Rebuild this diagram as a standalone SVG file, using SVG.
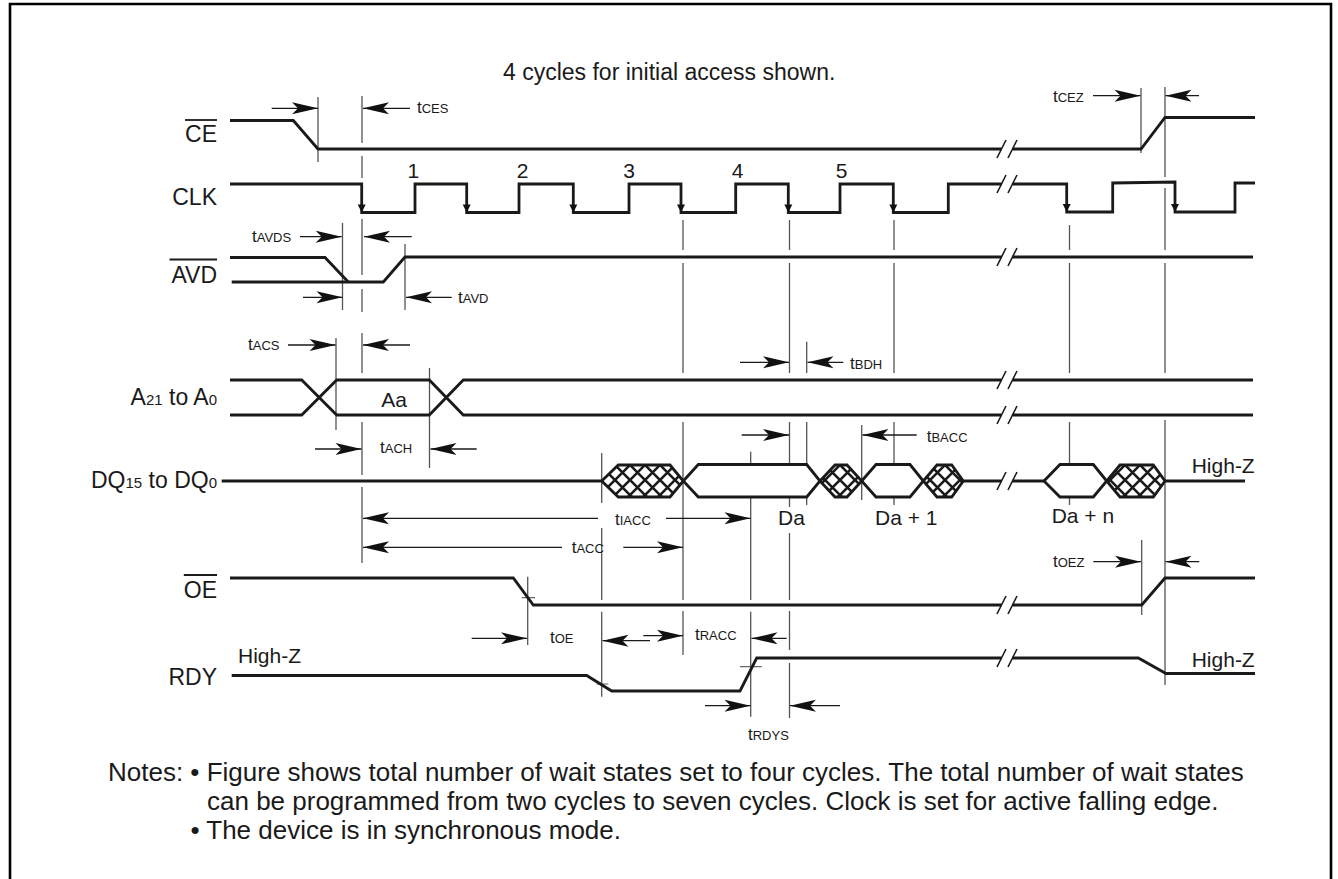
<svg xmlns="http://www.w3.org/2000/svg" width="1338" height="879" viewBox="0 0 1338 879">
<style>
.sig{fill:none;stroke:#1a1a1a;stroke-width:2.8;stroke-linejoin:miter}
.ref{fill:none;stroke:#555;stroke-width:1.3}
.arr{fill:none;stroke:#1a1a1a;stroke-width:1.3;marker-end:url(#ah)}
.brk{fill:none;stroke:#1a1a1a;stroke-width:1.6}
.tick{fill:none;stroke:#666;stroke-width:1.2}
text{font-family:"Liberation Sans",Arial,Helvetica,sans-serif;fill:#1a1a1a}
.lbl{font-size:23px;text-anchor:end}
.tl{font-size:17px}
.sub{font-size:13px}
.dl{font-size:21px}
.note{font-size:26px}
.ttl{font-size:23px}
</style>
<defs>
<marker id="ah" viewBox="-27 -7 28 14" refX="0" refY="0" markerWidth="28" markerHeight="14" markerUnits="userSpaceOnUse" orient="auto">
<path d="M0,0 L-26,-6 L-20,0 L-26,6 Z" fill="#111"/>
</marker>
<path id="ck" d="M-4,-8 L4,-8 L0,0 Z" fill="#111"/>
<pattern id="hatch" patternUnits="userSpaceOnUse" width="15" height="15">
<rect width="15" height="15" fill="#fff"/>
<path d="M0,0 L15,15 M15,0 L0,15" stroke="#1a1a1a" stroke-width="2.6"/>
</pattern>
</defs>
<rect width="1338" height="879" fill="#fff"/>
<path d="M10,879 V4 H1331 V879" fill="none" stroke="#000" stroke-width="2.6"/>

<text class="ttl" x="503" y="80">4 cycles for initial access shown.</text>

<g id="reference-lines">
<path class="ref" d="M318,97 V162"/>
<path class="ref" d="M362,96 V143 M362,156 V178 M362,219 V275 M362,289 V312 M362,333 V373 M362,422 V475 M362,487 V563"/>
<path class="ref" d="M342.5,223 V310"/>
<path class="ref" d="M405,244 V310"/>
<path class="ref" d="M336,338 V430"/>
<path class="ref" d="M429.5,368 V468"/>
<path class="ref" d="M683,220 V250 M683,263 V373 M683,422 V600 M683,611 V655"/>
<path class="ref" d="M789.5,220 V250 M789.5,263 V373 M789.5,422 V463 M789.5,498 V507 M789.5,533 V600 M789.5,611 V650 M789.5,663 V718"/>
<path class="ref" d="M894,220 V250 M894,263 V373 M894,422 V463 M894,498 V505"/>
<path class="ref" d="M806.7,341.7 V373 M806.7,422 V464 M806.7,497 V505"/>
<path class="ref" d="M750.7,451.7 V464 M750.7,497 V600 M750.7,611.7 V716.7"/>
<path class="ref" d="M601.7,453 V503 M601.7,528 V600 M601.7,611.7 V696.7"/>
<path class="ref" d="M861.7,425 V500"/>
<path class="ref" d="M1069.5,225 V250 M1069.5,263 V373 M1069.5,422 V463 M1069.5,498 V505"/>
<path class="ref" d="M1165,87 V177 M1165,188 V250 M1165,263 V373 M1165,420 V685"/>
<path class="ref" d="M1141,88 V153"/>
<path class="ref" d="M1141.7,540 V615"/>
<path class="ref" d="M527.7,576.7 V645"/>
<path class="tick" d="M521.7,597.7 H535 M596.7,684 H608.3 M740,666.7 H761.7"/>
</g>

<g id="sig-CE">
<text class="lbl" x="217" y="142">CE</text>
<path d="M185,120 H217" stroke="#1a1a1a" stroke-width="1.8"/>
<path class="sig" d="M230,120.5 H293.3 L318,149 H1001.5 M1012.5,149 H1141 L1165,117.5 H1255"/>
</g>

<g id="sig-CLK">
<text class="lbl" x="217" y="205">CLK</text>
<path class="sig" d="M230,184 H361.7 V212.5 H415 V184 H466.7 V212.5 H519 V184 H573.3 V212.5 H629 V184 H681 V212.5 H735.7 V184 H788.3 V212.5 H840 V184 H893.3 V212.5 H948.3 V184 H1001.5 M1012.5,184 H1066.7 V212 H1112.7 V183 L1175,182 V212 H1235 V183 H1255"/>
<use href="#ck" x="361.7" y="212.5"/>
<use href="#ck" x="466.7" y="212.5"/>
<use href="#ck" x="573.3" y="212.5"/>
<use href="#ck" x="681" y="212.5"/>
<use href="#ck" x="788.3" y="212.5"/>
<use href="#ck" x="893.3" y="212.5"/>
<use href="#ck" x="1066.7" y="212"/>
<use href="#ck" x="1175" y="212"/>
<text class="dl" x="413.3" y="177.5" text-anchor="middle">1</text>
<text class="dl" x="522.5" y="177.5" text-anchor="middle">2</text>
<text class="dl" x="629" y="177.5" text-anchor="middle">3</text>
<text class="dl" x="737.5" y="177.5" text-anchor="middle">4</text>
<text class="dl" x="841.5" y="177.5" text-anchor="middle">5</text>
</g>

<g id="sig-AVD">
<text class="lbl" x="217" y="283">AVD</text>
<path d="M169.5,259.5 H217" stroke="#1a1a1a" stroke-width="1.8"/>
<path class="sig" d="M230,257.5 H325 L348.3,282"/>
<path class="sig" d="M231.7,282 H383.3 L405,257 H1001.5 M1012.5,257 H1253"/>
</g>

<g id="sig-A">
<text class="lbl" x="217" y="405">A<tspan font-size="15">21</tspan> to A<tspan font-size="15">0</tspan></text>
<path class="sig" d="M230,380 H301.7 L336.7,415 H429.3 L463.3,380 H1001.5 M1012.5,380 H1253"/>
<path class="sig" d="M230,415 H301.7 L336.7,380 H429.3 L463.3,415 H1001.5 M1012.5,415 H1253"/>
<text class="dl" x="394" y="406.7" text-anchor="middle">Aa</text>
</g>

<g id="sig-DQ">
<text class="lbl" x="217" y="488">DQ<tspan font-size="15">15</tspan> to DQ<tspan font-size="15">0</tspan></text>
<path class="sig" d="M221.7,481 H601.7 M963.3,481 H1001.5 M1012.5,481 H1044 M1165,481 H1245"/>
<path class="sig" style="fill:url(#hatch)" d="M601.7,481 L618.3,465 H670 L683.3,481 L670,497 H618.3 Z"/>
<path class="sig" style="fill:#fff" d="M683.3,481 L698.3,464.5 H806.7 L820,481 L806.7,497 H698.3 Z"/>
<path class="sig" style="fill:url(#hatch)" d="M820,481 L835,465 H847 L861.7,481 L847,497 H835 Z"/>
<path class="sig" style="fill:#fff" d="M861.7,481 L876,464.5 H910 L923.3,481 L910,497 H876 Z"/>
<path class="sig" style="fill:url(#hatch)" d="M923.3,481 L937,465 H951.7 L963.3,481 L951.7,497 H937 Z"/>
<path class="sig" style="fill:#fff" d="M1044,481 L1060,464.5 H1093.3 L1106.7,481 L1093.3,497 H1060 Z"/>
<path class="sig" style="fill:url(#hatch)" d="M1106.7,481 L1120,465 H1153.3 L1165,481 L1153.3,497 H1120 Z"/>
<text class="dl" x="778" y="525">Da</text>
<text class="dl" x="875" y="525">Da + 1</text>
<text class="dl" x="1051.7" y="523.3">Da + n</text>
<text class="dl" x="1191.7" y="473.3">High-Z</text>
</g>

<g id="sig-OE">
<text class="lbl" x="217" y="598">OE</text>
<path d="M183.8,575 H217" stroke="#1a1a1a" stroke-width="1.8"/>
<path class="sig" d="M230,578 H513.3 L533.3,605 H1001.5 M1012.5,605 H1141.7 L1165,578 H1255"/>
</g>

<g id="sig-RDY">
<text class="lbl" x="217" y="685">RDY</text>
<path class="sig" d="M231.7,675.5 H586.7 L611.7,691 H740 L756.7,658 H1001.5 M1012.5,658 H1138.3 L1166,673.5 H1255"/>
<text class="dl" x="238" y="662.7">High-Z</text>
<text class="dl" x="1191.7" y="666.7">High-Z</text>
</g>

<g id="breaks">
<path class="brk" d="M997,158 L1006,140 M1008,158 L1017,140"/>
<path class="brk" d="M997,193 L1006,175 M1008,193 L1017,175"/>
<path class="brk" d="M997,266 L1006,248 M1008,266 L1017,248"/>
<path class="brk" d="M997,389 L1006,371 M1008,389 L1017,371"/>
<path class="brk" d="M997,424 L1006,406 M1008,424 L1017,406"/>
<path class="brk" d="M997,490 L1006,472 M1008,490 L1017,472"/>
<path class="brk" d="M997,614 L1006,596 M1008,614 L1017,596"/>
<path class="brk" d="M997,667 L1006,649 M1008,667 L1017,649"/>
</g>

<g id="connectors">
<path class="arr" d="M271.7,108.3 H318"/><path class="arr" d="M410,108.3 H363"/>
<path class="arr" d="M300,236.7 H341.7"/><path class="arr" d="M411.7,236.7 H364"/>
<path class="arr" d="M303,297.3 H342.5"/><path class="arr" d="M451.7,297.3 H406"/>
<path class="arr" d="M288,345 H335.5"/><path class="arr" d="M410,345 H363"/>
<path class="arr" d="M315,449 H361.5"/><path class="arr" d="M476.7,449 H430.5"/>
<path class="arr" d="M740,362.3 H789"/><path class="arr" d="M843.3,362.3 H807.5"/>
<path class="arr" d="M741.7,435 H789"/><path class="arr" d="M916.7,435 H862.5"/>
<path class="arr" d="M598,518.3 H363"/><path class="arr" d="M666,518.3 H750.5"/>
<path class="arr" d="M562,547.3 H363"/><path class="arr" d="M623.3,547.3 H683"/>
<path class="arr" d="M471.7,638.3 H527"/><path class="arr" d="M650,640.7 H602.5"/>
<path class="arr" d="M643.3,635.7 H683"/><path class="arr" d="M786.7,638.3 H751.5"/>
<path class="arr" d="M705,705.7 H750.5"/><path class="arr" d="M840,705.7 H790"/>
<path class="arr" d="M1093,95.7 H1140.5"/><path class="arr" d="M1199,95.7 H1165.5"/>
<path class="arr" d="M1093.3,561.7 H1141"/><path class="arr" d="M1199.3,561.7 H1165.5"/>
</g>

<g id="timing-labels">
<text class="tl" x="417" y="113">t<tspan class="sub">CES</tspan></text>
<text class="tl" x="252" y="242">t<tspan class="sub">AVDS</tspan></text>
<text class="tl" x="458" y="303">t<tspan class="sub">AVD</tspan></text>
<text class="tl" x="248" y="350">t<tspan class="sub">ACS</tspan></text>
<text class="tl" x="380" y="453">t<tspan class="sub">ACH</tspan></text>
<text class="tl" x="850" y="369">t<tspan class="sub">BDH</tspan></text>
<text class="tl" x="926.7" y="441.7">t<tspan class="sub">BACC</tspan></text>
<text class="tl" x="615" y="525">t<tspan class="sub">IACC</tspan></text>
<text class="tl" x="571.7" y="553">t<tspan class="sub">ACC</tspan></text>
<text class="tl" x="550" y="643">t<tspan class="sub">OE</tspan></text>
<text class="tl" x="695" y="640">t<tspan class="sub">RACC</tspan></text>
<text class="tl" x="748" y="740">t<tspan class="sub">RDYS</tspan></text>
<text class="tl" x="1053" y="101.7">t<tspan class="sub">CEZ</tspan></text>
<text class="tl" x="1053" y="566.7">t<tspan class="sub">OEZ</tspan></text>
</g>

<g id="notes">
<text class="note" x="108" y="781">Notes: • Figure shows total number of wait states set to four cycles. The total number of wait states</text>
<text class="note" x="207" y="810">can be programmed from two cycles to seven cycles. Clock is set for active falling edge.</text>
<text class="note" x="190.4" y="839">• The device is in synchronous mode.</text>
</g>
</svg>
